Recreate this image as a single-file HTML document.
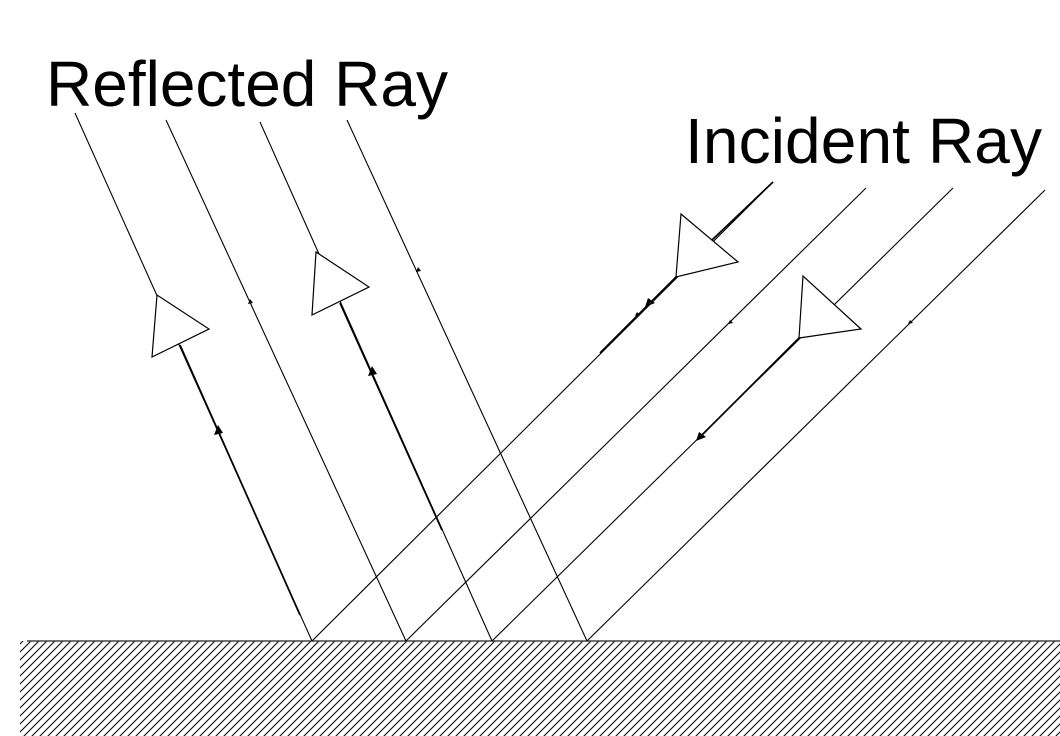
<!DOCTYPE html>
<html><head><style>html,body{margin:0;padding:0;background:#fff}svg{display:block}</style></head>
<body>
<svg width="1060" height="736" viewBox="0 0 1060 736" xmlns="http://www.w3.org/2000/svg">
<defs>
<pattern id="h" patternUnits="userSpaceOnUse" width="8" height="8">
<path d="M-2,10 L10,-2 M-2,2 L2,-2 M6,10 L10,6" stroke="#000" stroke-width="1"/>
</pattern>
</defs>
<rect x="20" y="641" width="1040" height="95" fill="url(#h)"/>
<line x1="27" y1="641" x2="1060" y2="641" stroke="#444" stroke-width="1.5"/>
<g stroke="#000" stroke-width="1.1" fill="none">
<line x1="312" y1="641" x2="75" y2="113"/>
<line x1="406" y1="641" x2="166" y2="120"/>
<line x1="492" y1="641" x2="260" y2="122"/>
<line x1="587" y1="641" x2="347" y2="120"/>
<line x1="312" y1="641" x2="773" y2="182"/>
<line x1="406" y1="641" x2="866" y2="188"/>
<line x1="492" y1="641" x2="953" y2="188"/>
<line x1="587" y1="641" x2="1045" y2="190"/>
</g>
<g stroke="#000" stroke-width="1.7">
<line x1="180" y1="345" x2="300" y2="615"/>
<line x1="340" y1="303" x2="442" y2="530"/>
<line x1="676" y1="277" x2="600" y2="353"/>
<line x1="799" y1="338" x2="700" y2="437"/>
<line x1="712" y1="240" x2="773" y2="182"/>
</g>
<g stroke="#000" stroke-width="1.2" fill="#fff">
<polygon points="157,295 152,357 209,329"/>
<polygon points="316,252 312,315 369,287"/>
<polygon points="681,214 676,277 738,262"/>
<polygon points="803,276 799,338 861,329"/>
</g>
<g fill="#000">
<polygon points="218,425 214,435 223,433"/>
<polygon points="372,366 368,376 377,374"/>
<polygon points="645,307 655,303 648,298"/>
<polygon points="696,441 706,437 699,432"/>
<polygon points="250,299 248,304 253,303"/>
<polygon points="418,267 416,272 421,271"/>
<polygon points="635,316 640,315 637,312"/>
<polygon points="728,324 733,323 730,320"/>
<polygon points="908,324 913,323 910,320"/>
</g>
<text x="46" y="106" font-family="Liberation Sans, sans-serif" font-size="64" textLength="402" fill="#000">Reflected Ray</text>
<text x="685" y="163" font-family="Liberation Sans, sans-serif" font-size="64" textLength="357" fill="#000">Incident Ray</text>
</svg>
</body></html>
